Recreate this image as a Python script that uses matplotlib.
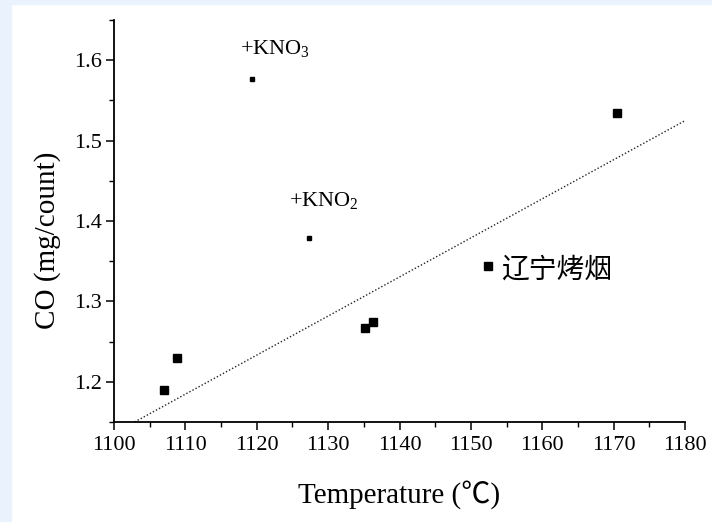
import matplotlib
matplotlib.use("Agg")
import matplotlib.pyplot as plt
from matplotlib.patches import Rectangle
from matplotlib.ticker import MultipleLocator

# samples (temperature in C, CO in mg/count)
temp = [1107.0, 1108.8, 1135.2, 1136.3, 1152.4, 1170.5]
co = [1.190, 1.229, 1.267, 1.275, 1.344, 1.534]

# the two samples with potassium nitrate added
kno_temp = [1119.3, 1127.3]
kno_co = [1.577, 1.379]
kno_labels = ['+KNO$_3$', '+KNO$_2$']

# trend line
trend_x0 = 1100.0
trend_y0 = 1.136
trend_slope = 0.00486

serif = ['Liberation Serif', 'DejaVu Serif']
cjk = ['Noto Sans CJK SC', 'DejaVu Sans']
plt.rcParams['font.family'] = serif
plt.rcParams['mathtext.fontset'] = 'custom'
plt.rcParams['mathtext.rm'] = 'Liberation Serif'

fig = plt.figure(figsize=(7.12, 5.22), dpi=100)
fig.patch.set_facecolor('white')
# light blue frame of the scan
fig.patches.append(Rectangle((0, 0), 11 / 712, 1, transform=fig.transFigure,
                             color='#eaf2fd', zorder=-1))
fig.patches.append(Rectangle((0, 1 - 4 / 522), 1, 4 / 522, transform=fig.transFigure,
                             color='#eaf2fd', zorder=-1))

ax = fig.add_axes([114 / 712, 1 - 422 / 522, 571 / 712, 402 / 522])
ax.set_xlim(1100, 1180)
ax.set_ylim(1.15, 1.65)

ax.axline((trend_x0, trend_y0), slope=trend_slope, color='#222222', lw=1.0,
          linestyle=(0, (1, 1.5)))
ax.plot(temp, co, 's', color='black', markersize=5.8, zorder=3)
ax.plot(kno_temp, kno_co, 's', color='black', markersize=3.3, zorder=3)

ax.text(1117.7, 1.614, kno_labels[0], fontsize=16, ha='left', va='center')
ax.text(1124.5, 1.425, kno_labels[1], fontsize=16, ha='left', va='center')
ax.text(1154.2, 1.340, '辽宁烤烟', fontsize=20, family=cjk, ha='left', va='center')

for side in ['top', 'right']:
    ax.spines[side].set_visible(False)
for side in ['left', 'bottom']:
    ax.spines[side].set_linewidth(1.3)

ax.xaxis.set_major_locator(MultipleLocator(10))
ax.xaxis.set_minor_locator(MultipleLocator(5))
ax.yaxis.set_major_locator(MultipleLocator(0.1))
ax.yaxis.set_minor_locator(MultipleLocator(0.05))
ax.tick_params(which='major', direction='out', length=6, width=1.1, labelsize=16)
ax.tick_params(which='minor', direction='out', length=3.5, width=1.0)
ax.tick_params(axis='x', pad=4)
ax.tick_params(axis='y', pad=3)

xl = ax.set_xlabel('Temperature (℃)', fontsize=21,
                   family=['Liberation Serif', 'Noto Sans CJK SC'])
yl = ax.set_ylabel('CO (mg/count)', fontsize=21)
ax.xaxis.set_label_coords(0.5, (422 - 495) / 402)
ax.yaxis.set_label_coords((48 - 114) / 571, (422 - 240) / 402)
xl.set_va('center')
yl.set_va('center')

fig.savefig('out.png', dpi=100)
